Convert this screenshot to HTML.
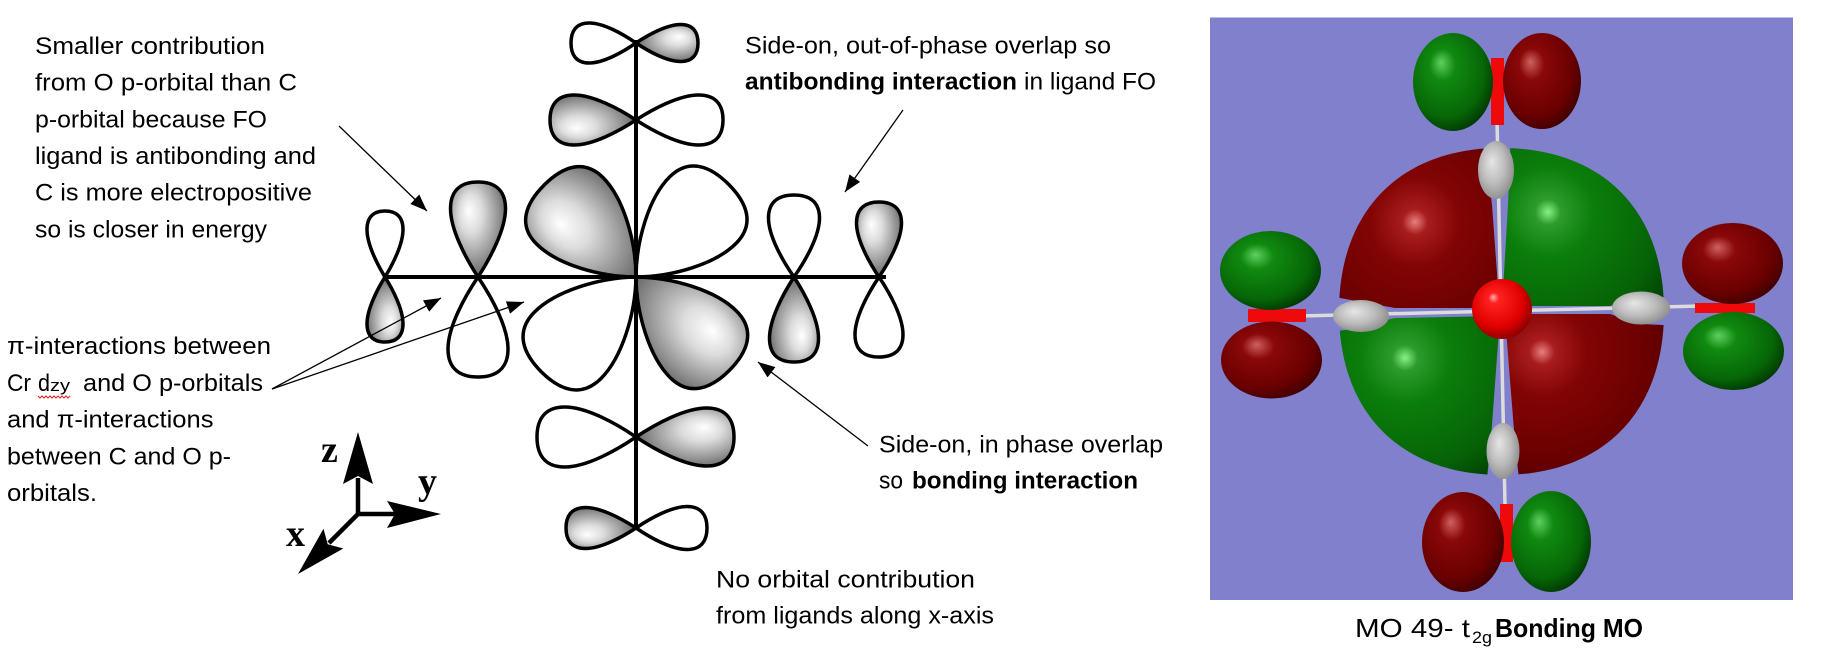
<!DOCTYPE html>
<html><head><meta charset="utf-8"><style>
html,body{margin:0;padding:0;background:#fff;}
svg{display:block;}
.t{font-family:"Liberation Sans",Arial,sans-serif;font-size:24px;fill:#000;}
.b{font-weight:bold;}
.ax{font-family:"Liberation Serif","Times New Roman",serif;font-weight:bold;font-size:38px;fill:#000;}
.lo{stroke:#000;stroke-width:3.5;vector-effect:non-scaling-stroke;stroke-linejoin:round;}
</style></head><body>
<svg width="1834" height="655" viewBox="0 0 1834 655" xmlns="http://www.w3.org/2000/svg">
<defs>
  <radialGradient id="gl" cx="0.45" cy="0.4" r="0.7" fx="0.33" fy="0.3">
    <stop offset="0" stop-color="#ffffff"/>
    <stop offset="0.3" stop-color="#dcdcdc"/>
    <stop offset="0.7" stop-color="#8c8c8c"/>
    <stop offset="1" stop-color="#4e4e4e"/>
  </radialGradient>
  <marker id="ah" markerWidth="17" markerHeight="13" refX="17" refY="6.5" orient="auto" markerUnits="userSpaceOnUse">
    <path d="M0,0 L17,6.5 L0,13 Z" fill="#000"/>
  </marker>
  <radialGradient id="rTL" gradientUnits="userSpaceOnUse" cx="1415" cy="222" r="160">
    <stop offset="0" stop-color="#e88080"/><stop offset="0.08" stop-color="#a81c1c"/>
    <stop offset="0.28" stop-color="#820404"/><stop offset="0.7" stop-color="#680000"/><stop offset="1" stop-color="#3a0000"/>
  </radialGradient>
  <radialGradient id="gTR" gradientUnits="userSpaceOnUse" cx="1548" cy="212" r="160">
    <stop offset="0" stop-color="#88f088"/><stop offset="0.08" stop-color="#2c9c2c"/>
    <stop offset="0.28" stop-color="#0b7e0b"/><stop offset="0.7" stop-color="#066206"/><stop offset="1" stop-color="#013201"/>
  </radialGradient>
  <radialGradient id="gBL" gradientUnits="userSpaceOnUse" cx="1405" cy="358" r="160">
    <stop offset="0" stop-color="#88f088"/><stop offset="0.08" stop-color="#2c9c2c"/>
    <stop offset="0.28" stop-color="#0b7e0b"/><stop offset="0.7" stop-color="#066206"/><stop offset="1" stop-color="#013201"/>
  </radialGradient>
  <radialGradient id="rBR" gradientUnits="userSpaceOnUse" cx="1542" cy="352" r="160">
    <stop offset="0" stop-color="#e88080"/><stop offset="0.08" stop-color="#a81c1c"/>
    <stop offset="0.28" stop-color="#820404"/><stop offset="0.7" stop-color="#680000"/><stop offset="1" stop-color="#3a0000"/>
  </radialGradient>
  <radialGradient id="rs" cx="0.42" cy="0.4" r="0.65" fx="0.35" fy="0.3">
    <stop offset="0" stop-color="#d06060"/><stop offset="0.25" stop-color="#8a0808"/>
    <stop offset="0.75" stop-color="#6a0000"/><stop offset="1" stop-color="#3c0000"/>
  </radialGradient>
  <radialGradient id="gs" cx="0.42" cy="0.4" r="0.65" fx="0.35" fy="0.3">
    <stop offset="0" stop-color="#60d060"/><stop offset="0.25" stop-color="#108a10"/>
    <stop offset="0.75" stop-color="#066606"/><stop offset="1" stop-color="#013401"/>
  </radialGradient>
  <radialGradient id="gr" cx="0.45" cy="0.45" r="0.6" fx="0.38" fy="0.35">
    <stop offset="0" stop-color="#e6e6e6"/><stop offset="0.55" stop-color="#bcbcbc"/><stop offset="1" stop-color="#8a8a8a"/>
  </radialGradient>
  <radialGradient id="rc" cx="0.45" cy="0.42" r="0.6" fx="0.35" fy="0.3">
    <stop offset="0" stop-color="#ffb0b0"/><stop offset="0.15" stop-color="#ff2020"/>
    <stop offset="0.7" stop-color="#e00000"/><stop offset="1" stop-color="#8a0000"/>
  </radialGradient>
  <clipPath id="cTL"><polygon points="1320,130 1482,130 1492,205 1499,300 1499,308 1395,308 1340,298 1320,298"/></clipPath>
  <clipPath id="cTR"><polygon points="1511,130 1690,130 1690,298 1640,296 1610,306 1503,306 1503,290 1508,205"/></clipPath>
  <clipPath id="cBL"><polygon points="1320,333 1345,330 1395,318 1499,316 1499,330 1492,425 1486,490 1320,490"/></clipPath>
  <clipPath id="cBR"><polygon points="1504,314 1610,314 1640,324 1690,326 1690,490 1520,490 1514,430 1506,330"/></clipPath>
  <path id="big" d="M1339,311.5 C1339,210.1 1400.75,148 1501.5,148 C1602.25,148 1664,210.1 1664,311.5 C1664,412.9 1602.25,475 1501.5,475 C1400.75,475 1339,412.9 1339,311.5 Z"/>
</defs>

<!-- ============ Left text block ============ -->
<text class="t" x="35" y="54" textLength="230" lengthAdjust="spacingAndGlyphs">Smaller contribution</text>
<text class="t" x="35" y="90.7" textLength="262" lengthAdjust="spacingAndGlyphs">from O p-orbital than C</text>
<text class="t" x="35" y="127.3" textLength="232" lengthAdjust="spacingAndGlyphs">p-orbital because FO</text>
<text class="t" x="35" y="164" textLength="281" lengthAdjust="spacingAndGlyphs">ligand is antibonding and</text>
<text class="t" x="35" y="200.7" textLength="277" lengthAdjust="spacingAndGlyphs">C is more electropositive</text>
<text class="t" x="35" y="237.3" textLength="232" lengthAdjust="spacingAndGlyphs">so is closer in energy</text>

<!-- ============ pi interactions block ============ -->
<text class="t" x="7" y="354" textLength="264" lengthAdjust="spacingAndGlyphs">π-interactions between</text>
<text class="t" x="7" y="391" textLength="24" lengthAdjust="spacingAndGlyphs">Cr</text>
<text class="t" x="38" y="391" textLength="12" lengthAdjust="spacingAndGlyphs">d</text>
<text class="t" x="50" y="391" style="font-size:17px" textLength="20" lengthAdjust="spacingAndGlyphs">zy</text>
<text class="t" x="83" y="391" textLength="180" lengthAdjust="spacingAndGlyphs">and O p-orbitals</text>
<polyline points="38,396 40,398 42,396 44,398 46,396 48,398 50,396 52,398 54,396 56,398 58,396 60,398 62,396 64,398 66,396 68,398 70,396" fill="none" stroke="#e02020" stroke-width="1"/>
<text class="t" x="7" y="427.7" textLength="206.5" lengthAdjust="spacingAndGlyphs">and π-interactions</text>
<text class="t" x="7" y="464.3" textLength="224" lengthAdjust="spacingAndGlyphs">between C and O p-</text>
<text class="t" x="7" y="501" textLength="90" lengthAdjust="spacingAndGlyphs">orbitals.</text>

<!-- ============ axes ============ -->
<g fill="#000" stroke="none">
  <line x1="358" y1="516" x2="358" y2="478" stroke="#000" stroke-width="4.5"/>
  <polygon points="358,432 343,484 358,476 373,484"/>
  <line x1="356" y1="514" x2="396" y2="514" stroke="#000" stroke-width="4.5"/>
  <polygon points="441,514 387,501 395,514 387,528"/>
  <line x1="360" y1="512" x2="329" y2="543" stroke="#000" stroke-width="4.5"/>
  <polygon points="298,574 323.5,528.7 327.7,544.3 343.3,548.5"/>
</g>
<text class="ax" x="321" y="462">z</text>
<text class="ax" x="418" y="494">y</text>
<text class="ax" x="286" y="546">x</text>

<!-- ============ orbital diagram ============ -->
<g>
  <!-- d orbital centre lobes -->
  <path class="lo" d="M0,0 C-0.55,-0.2 -1,-0.5 -1,-0.72 C-1,-0.93 -0.55,-1 0,-1 C0.55,-1 1,-0.93 1,-0.72 C1,-0.5 0.55,-0.2 0,0 Z" transform="translate(636,277) rotate(-45) scale(47,130)" fill="url(#gl)"/>
  <path class="lo" d="M0,0 C-0.55,-0.2 -1,-0.5 -1,-0.72 C-1,-0.93 -0.55,-1 0,-1 C0.55,-1 1,-0.93 1,-0.72 C1,-0.5 0.55,-0.2 0,0 Z" transform="translate(636,277) rotate(45) scale(47,131)" fill="#fff"/>
  <path class="lo" d="M0,0 C-0.55,-0.2 -1,-0.5 -1,-0.72 C-1,-0.93 -0.55,-1 0,-1 C0.55,-1 1,-0.93 1,-0.72 C1,-0.5 0.55,-0.2 0,0 Z" transform="translate(636,277) rotate(-135) scale(47,134)" fill="#fff"/>
  <path class="lo" d="M0,0 C-0.55,-0.2 -1,-0.5 -1,-0.72 C-1,-0.93 -0.55,-1 0,-1 C0.55,-1 1,-0.93 1,-0.72 C1,-0.5 0.55,-0.2 0,0 Z" transform="translate(636,277) rotate(135) scale(47,132)" fill="url(#gl)"/>

  <!-- top O -->
  <path class="lo" d="M0,0 C-0.45,-0.2 -1,-0.5 -1,-0.72 C-1,-0.93 -0.55,-1 0,-1 C0.55,-1 1,-0.93 1,-0.72 C1,-0.5 0.45,-0.2 0,0 Z" fill="#fff" transform="translate(636,43) rotate(-90) scale(20,65)"/>
  <path class="lo" d="M0,0 C-0.45,-0.2 -1,-0.5 -1,-0.72 C-1,-0.93 -0.55,-1 0,-1 C0.55,-1 1,-0.93 1,-0.72 C1,-0.5 0.45,-0.2 0,0 Z" fill="url(#gl)" transform="translate(636,43) rotate(90) scale(18.5,62)"/>
  <!-- top C -->
  <path class="lo" d="M0,0 C-0.45,-0.2 -1,-0.5 -1,-0.72 C-1,-0.93 -0.55,-1 0,-1 C0.55,-1 1,-0.93 1,-0.72 C1,-0.5 0.45,-0.2 0,0 Z" fill="url(#gl)" transform="translate(636,120) rotate(-90) scale(25,86)"/>
  <path class="lo" d="M0,0 C-0.45,-0.2 -1,-0.5 -1,-0.72 C-1,-0.93 -0.55,-1 0,-1 C0.55,-1 1,-0.93 1,-0.72 C1,-0.5 0.45,-0.2 0,0 Z" fill="#fff" transform="translate(636,120) rotate(90) scale(25,87)"/>
  <!-- bottom C -->
  <path class="lo" d="M0,0 C-0.45,-0.2 -1,-0.5 -1,-0.72 C-1,-0.93 -0.55,-1 0,-1 C0.55,-1 1,-0.93 1,-0.72 C1,-0.5 0.45,-0.2 0,0 Z" fill="#fff" transform="translate(636,437) rotate(-90) scale(30,99)"/>
  <path class="lo" d="M0,0 C-0.45,-0.2 -1,-0.5 -1,-0.72 C-1,-0.93 -0.55,-1 0,-1 C0.55,-1 1,-0.93 1,-0.72 C1,-0.5 0.45,-0.2 0,0 Z" fill="url(#gl)" transform="translate(636,437) rotate(90) scale(29,98)"/>
  <!-- bottom O -->
  <path class="lo" d="M0,0 C-0.45,-0.2 -1,-0.5 -1,-0.72 C-1,-0.93 -0.55,-1 0,-1 C0.55,-1 1,-0.93 1,-0.72 C1,-0.5 0.45,-0.2 0,0 Z" fill="url(#gl)" transform="translate(636,528) rotate(-90) scale(20.5,70)"/>
  <path class="lo" d="M0,0 C-0.45,-0.2 -1,-0.5 -1,-0.72 C-1,-0.93 -0.55,-1 0,-1 C0.55,-1 1,-0.93 1,-0.72 C1,-0.5 0.45,-0.2 0,0 Z" fill="#fff" transform="translate(636,528) rotate(90) scale(21.5,71)"/>
  <!-- left O -->
  <path class="lo" d="M0,0 C-0.45,-0.2 -1,-0.5 -1,-0.72 C-1,-0.93 -0.55,-1 0,-1 C0.55,-1 1,-0.93 1,-0.72 C1,-0.5 0.45,-0.2 0,0 Z" fill="#fff" transform="translate(385,277) scale(18,66)"/>
  <path class="lo" d="M0,0 C-0.45,-0.2 -1,-0.5 -1,-0.72 C-1,-0.93 -0.55,-1 0,-1 C0.55,-1 1,-0.93 1,-0.72 C1,-0.5 0.45,-0.2 0,0 Z" fill="url(#gl)" transform="translate(385,277) rotate(180) scale(18,65)"/>
  <!-- left C -->
  <path class="lo" d="M0,0 C-0.45,-0.2 -1,-0.5 -1,-0.72 C-1,-0.93 -0.55,-1 0,-1 C0.55,-1 1,-0.93 1,-0.72 C1,-0.5 0.45,-0.2 0,0 Z" fill="url(#gl)" transform="translate(478,277) scale(27.5,95)"/>
  <path class="lo" d="M0,0 C-0.45,-0.2 -1,-0.5 -1,-0.72 C-1,-0.93 -0.55,-1 0,-1 C0.55,-1 1,-0.93 1,-0.72 C1,-0.5 0.45,-0.2 0,0 Z" fill="#fff" transform="translate(478,277) rotate(180) scale(30,100)"/>
  <!-- right C -->
  <path class="lo" d="M0,0 C-0.45,-0.2 -1,-0.5 -1,-0.72 C-1,-0.93 -0.55,-1 0,-1 C0.55,-1 1,-0.93 1,-0.72 C1,-0.5 0.45,-0.2 0,0 Z" fill="#fff" transform="translate(794,277) scale(25.5,82)"/>
  <path class="lo" d="M0,0 C-0.45,-0.2 -1,-0.5 -1,-0.72 C-1,-0.93 -0.55,-1 0,-1 C0.55,-1 1,-0.93 1,-0.72 C1,-0.5 0.45,-0.2 0,0 Z" fill="url(#gl)" transform="translate(794,277) rotate(180) scale(24.5,85)"/>
  <!-- right O -->
  <path class="lo" d="M0,0 C-0.45,-0.2 -1,-0.5 -1,-0.72 C-1,-0.93 -0.55,-1 0,-1 C0.55,-1 1,-0.93 1,-0.72 C1,-0.5 0.45,-0.2 0,0 Z" fill="url(#gl)" transform="translate(879,277) scale(22.5,75)"/>
  <path class="lo" d="M0,0 C-0.45,-0.2 -1,-0.5 -1,-0.72 C-1,-0.93 -0.55,-1 0,-1 C0.55,-1 1,-0.93 1,-0.72 C1,-0.5 0.45,-0.2 0,0 Z" fill="#fff" transform="translate(879,277) rotate(180) scale(24,80)"/>
  <!-- axis lines -->
  <line x1="383" y1="277" x2="886" y2="277" stroke="#000" stroke-width="4"/>
  <line x1="636" y1="40" x2="636" y2="530" stroke="#000" stroke-width="4"/>
</g>

<!-- ============ annotation arrows ============ -->
<g stroke="#000" stroke-width="1.3" fill="none">
  <line x1="339" y1="126" x2="427" y2="211" marker-end="url(#ah)"/>
  <line x1="903" y1="110" x2="845" y2="192" marker-end="url(#ah)"/>
  <line x1="272" y1="389" x2="441" y2="298" marker-end="url(#ah)"/>
  <line x1="272" y1="389" x2="524" y2="302" marker-end="url(#ah)"/>
  <line x1="868" y1="446" x2="758" y2="362" marker-end="url(#ah)"/>
</g>

<!-- ============ right-side annotations ============ -->
<text class="t" x="745" y="53.3" textLength="366" lengthAdjust="spacingAndGlyphs">Side-on, out-of-phase overlap so</text>
<text class="t b" x="745" y="89.3" textLength="272" lengthAdjust="spacingAndGlyphs">antibonding interaction</text>
<text class="t" x="1024" y="89.3" textLength="132" lengthAdjust="spacingAndGlyphs">in ligand FO</text>

<text class="t" x="879" y="452.7" textLength="284" lengthAdjust="spacingAndGlyphs">Side-on, in phase overlap</text>
<text class="t" x="879" y="488.3" textLength="24" lengthAdjust="spacingAndGlyphs">so</text>
<text class="t b" x="912" y="488.3" textLength="226" lengthAdjust="spacingAndGlyphs">bonding interaction</text>

<text class="t" x="716" y="587.3" textLength="259" lengthAdjust="spacingAndGlyphs">No orbital contribution</text>
<text class="t" x="716" y="623.3" textLength="278" lengthAdjust="spacingAndGlyphs">from ligands along x-axis</text>

<!-- ============ MO picture ============ -->
<rect x="1210" y="17.5" width="583" height="582.5" fill="#8080cc"/>
<!-- bond lines -->
<g stroke="#dcdcdc" stroke-width="3.5">
  <line x1="1497" y1="120" x2="1505" y2="505"/>
  <line x1="1300" y1="316" x2="1700" y2="306"/>
</g>
<!-- ligand O lobes -->
<rect x="1491" y="58" width="13" height="67" fill="#ee0a0a"/>
<ellipse cx="1453" cy="82" rx="40" ry="49" fill="url(#gs)"/>
<ellipse cx="1542" cy="81" rx="39" ry="48" fill="url(#rs)"/>
<rect x="1500" y="504" width="13" height="58" fill="#ee0a0a"/>
<ellipse cx="1463" cy="542" rx="41" ry="50" fill="url(#rs)"/>
<ellipse cx="1551" cy="541.5" rx="40" ry="50.5" fill="url(#gs)"/>
<rect x="1248" y="309" width="58" height="13" fill="#ee0a0a"/>
<ellipse cx="1270.5" cy="270.5" rx="50.5" ry="39.5" fill="url(#gs)"/>
<ellipse cx="1271.5" cy="360" rx="50.5" ry="38.5" fill="url(#rs)"/>
<rect x="1695" y="303" width="60" height="10" fill="#ee0a0a"/>
<ellipse cx="1732.5" cy="263.5" rx="50.5" ry="40.5" fill="url(#rs)"/>
<ellipse cx="1733.5" cy="351" rx="50.5" ry="39" fill="url(#gs)"/>
<!-- big metal d lobes -->
<use href="#big" fill="url(#rTL)" clip-path="url(#cTL)"/>
<use href="#big" fill="url(#gTR)" clip-path="url(#cTR)"/>
<use href="#big" fill="url(#gBL)" clip-path="url(#cBL)"/>
<use href="#big" fill="url(#rBR)" clip-path="url(#cBR)"/>
<!-- C atoms -->
<ellipse cx="1496" cy="170" rx="18" ry="29" fill="url(#gr)"/>
<ellipse cx="1503" cy="451" rx="16.5" ry="28" fill="url(#gr)"/>
<ellipse cx="1361" cy="316" rx="28" ry="16" fill="url(#gr)"/>
<ellipse cx="1641" cy="308" rx="29" ry="16.5" fill="url(#gr)"/>
<!-- centre metal -->
<circle cx="1502" cy="309" r="30" fill="url(#rc)"/>

<!-- caption -->
<text class="t" x="1355" y="637" style="font-size:26px" textLength="115" lengthAdjust="spacingAndGlyphs">MO 49- t</text>
<text class="t" x="1472" y="643" style="font-size:17px" textLength="20" lengthAdjust="spacingAndGlyphs">2g</text>
<text class="t b" x="1495" y="637" style="font-size:26px" textLength="148" lengthAdjust="spacingAndGlyphs">Bonding MO</text>
</svg>
</body></html>
